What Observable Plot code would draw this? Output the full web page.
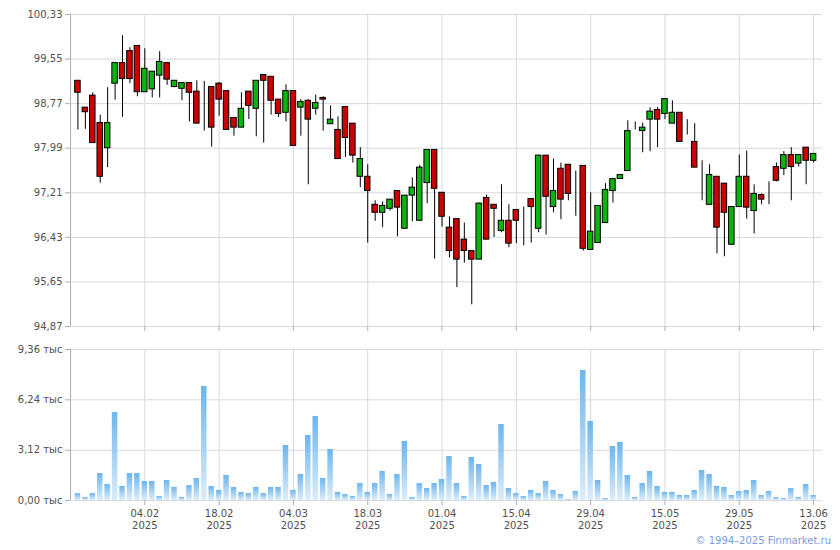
<!DOCTYPE html>
<html>
<head>
<meta charset="utf-8">
<script src="https://cdn.jsdelivr.net/npm/d3@7"></script>
<script src="https://cdn.jsdelivr.net/npm/@observablehq/plot@0.6"></script>
<style>
  html, body { margin: 0; padding: 0; background: #fff; }
  #wrap { position: relative; width: 840px; height: 550px; overflow: hidden; }
  #wrap svg { display: block; }
  #caption { position: absolute; top: 535px; right: 9px; font: 10px "DejaVu Sans", sans-serif; color: #7d9be0; }
</style>
</head>
<body>
<div id="wrap"><div id="caption">© 1994–2025 Finmarket.ru</div></div>
<script>
const dates = ["22.01.2025","23.01.2025","24.01.2025","27.01.2025","28.01.2025","29.01.2025","30.01.2025","31.01.2025","03.02.2025","04.02.2025",
"05.02.2025","06.02.2025","07.02.2025","10.02.2025","11.02.2025","12.02.2025","13.02.2025","14.02.2025","17.02.2025","18.02.2025",
"19.02.2025","20.02.2025","21.02.2025","24.02.2025","25.02.2025","26.02.2025","27.02.2025","28.02.2025","03.03.2025","04.03.2025",
"05.03.2025","06.03.2025","07.03.2025","10.03.2025","11.03.2025","12.03.2025","13.03.2025","14.03.2025","17.03.2025","18.03.2025",
"19.03.2025","20.03.2025","21.03.2025","24.03.2025","25.03.2025","26.03.2025","27.03.2025","28.03.2025","31.03.2025","01.04.2025",
"02.04.2025","03.04.2025","04.04.2025","07.04.2025","08.04.2025","09.04.2025","10.04.2025","11.04.2025","14.04.2025","15.04.2025",
"16.04.2025","17.04.2025","18.04.2025","21.04.2025","22.04.2025","23.04.2025","24.04.2025","25.04.2025","28.04.2025","29.04.2025",
"30.04.2025","02.05.2025","05.05.2025","06.05.2025","07.05.2025","08.05.2025","12.05.2025","13.05.2025","14.05.2025","15.05.2025",
"16.05.2025","19.05.2025","20.05.2025","21.05.2025","22.05.2025","23.05.2025","26.05.2025","27.05.2025","28.05.2025","29.05.2025",
"30.05.2025","02.06.2025","03.06.2025","04.06.2025","05.06.2025","06.06.2025","09.06.2025","10.06.2025","11.06.2025","13.06.2025"];

const open = [99.17,98.70,98.91,98.43,97.99,99.12,99.48,99.69,99.78,98.97,
99.02,99.26,99.48,99.06,99.03,99.13,98.98,98.90,99.06,99.12,
98.99,98.52,98.35,98.98,98.68,99.27,99.24,98.84,98.61,98.99,
98.70,98.82,98.68,98.87,98.41,98.31,98.71,98.42,97.49,97.49,
97.00,96.86,96.93,97.24,96.58,97.16,96.72,97.38,97.96,97.21,
96.60,96.75,96.39,96.19,96.04,97.12,97.00,96.54,96.72,96.91,
96.65,97.10,96.58,97.86,96.96,97.63,97.70,97.02,97.68,96.21,
96.33,96.68,97.24,97.45,97.59,98.40,98.29,98.49,98.66,98.59,
98.42,98.61,98.49,98.10,97.50,97.00,97.49,97.37,96.30,96.96,
97.49,96.89,97.17,97.30,97.66,97.63,97.87,97.72,98.00,97.77];

const high = [99.17,98.70,98.96,98.57,99.05,99.48,99.96,99.75,99.78,99.73,
99.33,99.68,99.48,99.17,99.13,99.13,99.17,99.16,99.06,99.14,
98.99,98.52,98.96,98.98,99.17,99.27,99.24,98.84,99.10,98.99,
98.84,98.84,98.92,98.89,98.73,98.54,98.71,98.42,98.00,97.70,
97.07,97.05,97.09,97.24,97.16,97.47,97.69,97.96,97.96,97.21,
96.79,96.75,96.68,96.19,97.03,97.17,97.00,97.35,97.00,96.91,
96.96,97.10,97.87,97.86,97.80,97.73,97.70,97.59,97.68,97.21,
96.98,97.37,97.45,97.52,98.47,98.45,98.43,98.70,98.70,98.85,
98.82,98.61,98.49,98.42,97.77,97.70,97.49,97.37,96.96,97.87,
97.94,97.35,97.19,97.40,97.73,97.93,98.00,97.87,98.00,97.89];

const low = [98.31,98.32,98.08,97.38,97.65,98.83,98.53,99.12,98.89,98.97,
98.87,98.87,99.09,99.05,98.82,98.45,98.42,98.29,98.01,98.55,
98.31,98.20,98.35,98.49,98.19,98.08,98.57,98.53,98.45,98.03,
98.20,97.35,98.57,98.29,98.41,97.80,97.83,97.73,97.30,96.33,
96.71,96.60,96.89,96.44,96.58,96.70,96.72,97.02,96.05,96.61,
96.07,95.55,95.98,95.25,96.04,96.39,96.43,96.51,96.25,96.32,
96.28,96.33,96.51,96.47,96.86,96.74,97.07,96.80,96.19,96.21,
96.33,96.68,97.03,97.45,97.59,98.31,97.91,97.93,98.00,98.49,
98.42,98.10,98.22,97.65,97.07,97.00,96.14,96.09,96.30,96.96,
96.75,96.49,97.00,97.00,97.40,97.51,97.07,97.66,97.35,97.73];

const close = [98.96,98.62,98.08,97.49,98.43,99.48,99.20,99.20,98.97,99.38,
99.33,99.50,99.19,99.17,99.13,98.96,98.42,98.90,98.35,98.84,
98.31,98.35,98.68,98.73,99.17,99.17,98.82,98.59,98.99,98.03,
98.80,98.49,98.78,98.84,98.49,97.80,98.17,97.86,97.80,97.24,
96.86,96.98,97.09,96.95,97.16,97.30,97.65,97.96,97.28,96.79,
96.19,96.04,96.19,96.04,97.02,96.39,96.93,96.72,96.32,96.72,
96.65,96.96,97.86,97.14,97.24,97.09,97.19,97.02,96.23,96.53,
96.98,97.26,97.45,97.52,98.29,98.40,98.35,98.63,98.49,98.85,
98.61,98.10,98.49,97.65,97.50,97.52,96.60,96.86,96.96,97.49,
96.95,97.19,97.09,97.30,97.42,97.87,97.66,97.87,97.77,97.89];

const volume = [0.43,0.19,0.43,1.67,0.99,5.45,0.87,1.67,1.67,1.18,
1.18,0.25,1.24,0.81,0.19,0.93,1.36,7.07,0.87,0.62,
1.55,0.81,0.50,0.43,0.81,0.43,0.81,0.81,3.41,0.62,
1.61,4.03,5.21,1.36,3.16,0.50,0.37,0.25,1.05,0.50,
1.05,1.80,0.37,1.61,3.66,0.19,1.05,0.74,1.05,1.30,
2.73,1.05,0.25,2.67,2.23,0.93,1.12,4.71,0.74,0.43,
0.25,0.62,0.43,1.18,0.62,0.37,0.06,0.56,8.06,4.90,
1.24,0.12,3.35,3.60,1.55,0.19,1.05,1.80,0.87,0.50,
0.50,0.31,0.31,0.62,1.86,1.61,0.87,0.81,0.31,0.56,
0.62,1.24,0.31,0.56,0.19,0.12,0.74,0.19,0.99,0.31];

const tickDates = ["04.02.2025","18.02.2025","04.03.2025","18.03.2025","01.04.2025","15.04.2025","29.04.2025","15.05.2025","29.05.2025","13.06.2025"];
const priceTicks = [94.87, 95.65, 96.43, 97.21, 97.99, 98.77, 99.55, 100.33];
const volumeTicks = [0, 3.12, 6.24, 9.36];
const volumeUnit = "тыс";

const rows = dates.map((d, i) => ({i, d, o: open[i], h: high[i], l: low[i], c: close[i], v: volume[i]}));
const tickIdx = tickDates.map(d => dates.indexOf(d));

const GRID = "#d4d9de", AXIS = "#a8afb7", TEXT = "#505050";
const UP = "#0db40d", DOWN = "#cc0000";
const HALF = 0.37;
const xDomain = [-1, 100.2];
const fmt = v => v.toFixed(2).replace(".", ",");
const style = {fontFamily: "'DejaVu Sans', sans-serif", fontSize: "10px", color: TEXT, background: "transparent", overflow: "visible"};

const price = Plot.plot({
  width: 840, height: 340,
  marginLeft: 70, marginRight: 18, marginTop: 14, marginBottom: 14,
  style,
  x: {type: "linear", domain: xDomain, axis: null},
  y: {domain: [94.87, 100.33], axis: null},
  marks: [
    Plot.gridY(priceTicks, {stroke: GRID, strokeOpacity: 1}),
    Plot.gridX(tickIdx, {stroke: GRID, strokeOpacity: 1}),
    Plot.axisY(priceTicks, {label: null, tickFormat: fmt, tickSize: 5, tickPadding: 3, stroke: AXIS, fill: TEXT}),
    Plot.axisX(tickIdx, {label: null, anchor: "bottom", tickFormat: () => "", tickSize: 5, stroke: AXIS}),
    Plot.ruleX([xDomain[0]], {stroke: AXIS}),
    Plot.ruleX(rows, {x: "i", y1: "l", y2: "h", stroke: "#000", strokeWidth: 1}),
    Plot.rect(rows, {x1: d => d.i - HALF, x2: d => d.i + HALF, y1: "o", y2: "c",
      fill: d => d.c > d.o ? UP : (d.c < d.o ? DOWN : "#000"), stroke: "#000", strokeWidth: 1})
  ]
});

const vol = Plot.plot({
  width: 840, height: 195,
  marginLeft: 70, marginRight: 18, marginTop: 9, marginBottom: 35,
  style,
  x: {type: "linear", domain: xDomain, axis: null},
  y: {domain: [0, 9.36], axis: null},
  marks: [
    Plot.gridY(volumeTicks, {stroke: GRID, strokeOpacity: 1}),
    Plot.gridX(tickIdx, {stroke: GRID, strokeOpacity: 1}),
    Plot.rectY(rows, {x1: d => d.i - HALF, x2: d => d.i + HALF, y: "v", fill: "url(#volgrad)"}),
    Plot.axisY(volumeTicks, {label: null, tickFormat: v => fmt(v) + " " + volumeUnit, tickSize: 5, tickPadding: 3, stroke: AXIS, fill: TEXT}),
    Plot.axisX(tickIdx, {label: null, anchor: "bottom", tickSize: 5, tickPadding: 3, stroke: AXIS, fill: TEXT, lineHeight: 1.2,
      tickFormat: i => { const p = dates[i].split("."); return p[0] + "." + p[1] + "\n" + p[2]; }}),
    Plot.ruleX([xDomain[0]], {stroke: AXIS})
  ]
});

const defs = d3.select(vol).insert("defs", ":first-child");
const g = defs.append("linearGradient").attr("id", "volgrad").attr("x1", 0).attr("y1", 0).attr("x2", 0).attr("y2", 1);
g.append("stop").attr("offset", "0%").attr("stop-color", "#6db5ee");
g.append("stop").attr("offset", "100%").attr("stop-color", "#dcedfa");

const wrap = document.getElementById("wrap");
wrap.insertBefore(vol, wrap.firstChild);
wrap.insertBefore(price, wrap.firstChild);
</script>
</body>
</html>
